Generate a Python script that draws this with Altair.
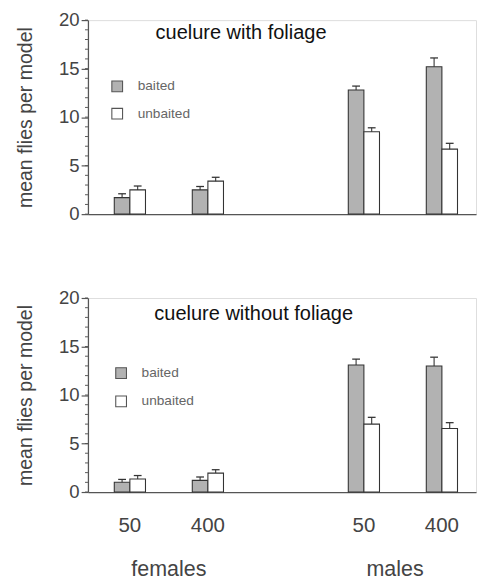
import altair as alt
import pandas as pd

# ---- data ----
positions = [1, 2, 4, 5]
dose_labels = ["50", "400", "50", "400"]
sex_labels = ["females", "males"]
sex_positions = [1.5, 4.4]
treatments = ["baited", "unbaited"]

with_baited = [1.7, 2.5, 12.8, 15.2]
with_baited_se = [0.4, 0.35, 0.4, 0.9]
with_unbaited = [2.5, 3.4, 8.5, 6.7]
with_unbaited_se = [0.4, 0.4, 0.4, 0.6]

without_baited = [1.0, 1.2, 13.1, 13.0]
without_baited_se = [0.3, 0.35, 0.6, 0.9]
without_unbaited = [1.35, 1.95, 7.0, 6.55]
without_unbaited_se = [0.35, 0.35, 0.7, 0.6]

y_ticks = [0, 5, 10, 15, 20]
minor_ticks = list(range(0, 21))

FONT = "Liberation Sans"
W, H = 398, 199
AXC = "#555555"

xscale = alt.Scale(domain=[0.4625, 5.4375], nice=False, zero=False)
yscale = alt.Scale(domain=[0, 20], nice=False, zero=True)
fillscale = alt.Scale(domain=treatments, range=["#b2b2b2", "#ffffff"])

xaxis = alt.Axis(title=None, labels=False, ticks=False, grid=False,
                 domainColor=AXC, domainWidth=1.3)
yaxis = alt.Axis(title="mean flies per model", values=y_ticks, grid=False,
                 tickSize=7, tickColor=AXC, tickWidth=1.2, domainColor=AXC,
                 domainWidth=1.3, labelFontSize=19, labelColor="#444444",
                 labelFont=FONT, labelPadding=2, titleFont=FONT,
                 titleFontSize=20, titleFontWeight="normal",
                 titleColor="#444444", titlePadding=24)


def panel(title, baited, bse, unb, use, tx, ty, lx, ly, lgap, show_x):
    rows = []
    for i, p in enumerate(positions):
        rows.append({"pos": p, "treatment": "baited", "value": baited[i], "se": bse[i]})
        rows.append({"pos": p, "treatment": "unbaited", "value": unb[i], "se": use[i]})
    df = pd.DataFrame(rows)

    base = alt.Chart(df).transform_calculate(
        side="datum.treatment == 'baited' ? -1 : 1",
        x0="datum.pos + (datum.side < 0 ? -0.2 : 0)",
        x1="datum.pos + (datum.side < 0 ? 0 : 0.2)",
        xc="datum.pos + datum.side * 0.1",
        cl="datum.pos + datum.side * 0.1 - 0.05",
        cr="datum.pos + datum.side * 0.1 + 0.05",
        top="datum.value + datum.se",
    )

    bars = base.mark_rect(stroke="#333333", strokeWidth=1.1).encode(
        x=alt.X("x0:Q", scale=xscale, axis=xaxis),
        x2="x1:Q",
        y=alt.Y("value:Q", scale=yscale, axis=yaxis),
        y2=alt.datum(0),
        fill=alt.Fill("treatment:N", scale=fillscale, legend=None),
    )
    stems = base.mark_rule(color="#333333", strokeWidth=1.1).encode(
        x=alt.X("xc:Q", scale=xscale, axis=xaxis),
        y=alt.Y("value:Q", scale=yscale, axis=yaxis),
        y2="top:Q",
    )
    caps = base.mark_rule(color="#333333", strokeWidth=1.3).encode(
        x=alt.X("cl:Q", scale=xscale, axis=xaxis),
        x2="cr:Q",
        y=alt.Y("top:Q", scale=yscale, axis=yaxis),
    )
    minor = alt.Chart(pd.DataFrame({"v": minor_ticks})).mark_rule(
        color=AXC, strokeWidth=1).encode(
        x=alt.value(-3), x2=alt.value(0),
        y=alt.Y("v:Q", scale=yscale, axis=yaxis),
    )
    ttl = alt.Chart(pd.DataFrame({"t": [title]})).mark_text(
        font=FONT, fontSize=20.5, color="#111111", baseline="alphabetic",
        align="center").encode(x=alt.value(tx), y=alt.value(ty), text="t:N")

    layers = [bars, stems, caps, minor, ttl]
    for k, tr in enumerate(treatments):
        ldf = pd.DataFrame({"treatment": [tr]})
        sq = alt.Chart(ldf).mark_square(size=121, stroke="#555555",
                                        strokeWidth=1.1, opacity=1).encode(
            x=alt.value(lx), y=alt.value(ly + k * lgap),
            fill=alt.Fill("treatment:N", scale=fillscale, legend=None))
        tx_ = alt.Chart(ldf).mark_text(font=FONT, fontSize=14, color="#666666",
                                       align="left", baseline="middle").encode(
            x=alt.value(lx + 21), y=alt.value(ly + k * lgap), text="treatment:N")
        layers += [sq, tx_]

    if show_x:
        doses = alt.Chart(pd.DataFrame({"pos": positions, "dose": dose_labels})).mark_text(
            font=FONT, fontSize=21, color="#444444", baseline="alphabetic").encode(
            x=alt.X("pos:Q", scale=xscale, axis=xaxis),
            y=alt.value(H + 41), text="dose:N")
        sexes = alt.Chart(pd.DataFrame({"pos": sex_positions, "sex": sex_labels})).mark_text(
            font=FONT, fontSize=22, color="#444444", baseline="alphabetic").encode(
            x=alt.X("pos:Q", scale=xscale, axis=xaxis),
            y=alt.value(H + 86), text="sex:N")
        layers += [doses, sexes]

    return alt.layer(*layers).properties(width=W, height=H)


top = panel("cuelure with foliage", with_baited, with_baited_se,
            with_unbaited, with_unbaited_se, 157, 19, 30, 68, 28, False)
bottom = panel("cuelure without foliage", without_baited, without_baited_se,
               without_unbaited, without_unbaited_se, 170, 23, 34, 77, 29, True)

chart = alt.vconcat(top, bottom, spacing=65).properties(
    padding={"left": 7, "top": -5, "right": 0, "bottom": 0}
).configure_view(stroke=None).configure(font=FONT)

chart.save("out.html", embed_options={"renderer": "svg", "actions": False})
